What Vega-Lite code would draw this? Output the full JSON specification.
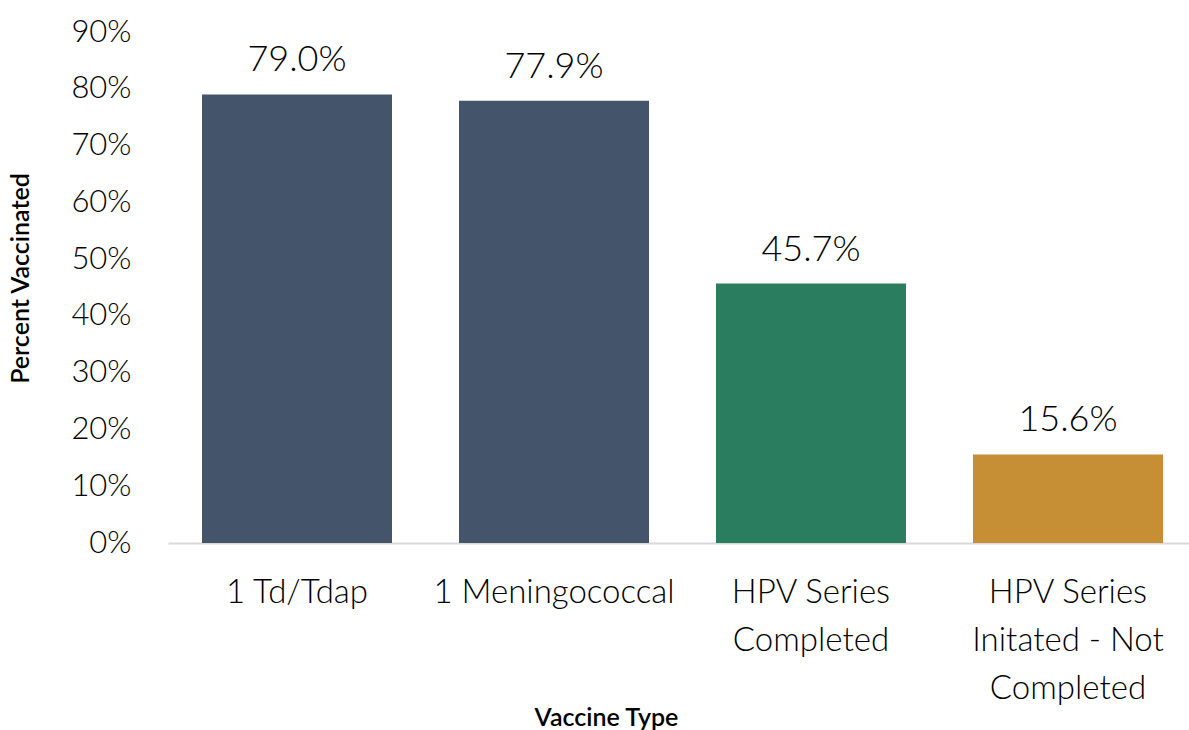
{
  "$schema": "https://vega.github.io/schema/vega-lite/v6.json",
  "autosize": {"type": "none"},
  "padding": {"left": 168, "top": 32, "right": 0, "bottom": 187},
  "width": 1021,
  "height": 511,
  "background": "white",
  "config": {
    "view": {"stroke": null},
    "font": "Lato",
    "axis": {"grid": false, "ticks": false}
  },
  "data": {
    "values": [
      {"vaccine": "1 Td/Tdap", "pct": 0.790, "group": "A"},
      {"vaccine": "1 Meningococcal", "pct": 0.779, "group": "A"},
      {"vaccine": "HPV Series|Completed", "pct": 0.457, "group": "B"},
      {"vaccine": "HPV Series|Initated - Not|Completed", "pct": 0.156, "group": "C"}
    ]
  },
  "encoding": {
    "x": {
      "field": "vaccine",
      "type": "nominal",
      "sort": null,
      "scale": {"range": [0, 1029], "paddingInner": 0.2607, "paddingOuter": 0.1323},
      "axis": {
        "title": "Vaccine Type",
        "labelAngle": 0,
        "labelExpr": "split(datum.label, '|')",
        "labelFont": "Lato",
        "labelFontWeight": 300,
        "labelFontSize": 33,
        "labelLimit": 0,
        "labelColor": "#000000",
        "labelLineHeight": 48,
        "labelPadding": 33,
        "labelBaseline": "top",
        "domain": true,
        "domainColor": "#d9d9d9",
        "domainWidth": 2,
        "titleFont": "Lato",
        "titleFontWeight": 600,
        "titleFontSize": 25,
        "titleColor": "#000000",
        "titleX": 438,
        "titleY": 174,
        "titleAlign": "center",
        "titleBaseline": "middle"
      }
    },
    "y": {
      "field": "pct",
      "type": "quantitative",
      "scale": {"domain": [0, 0.9], "nice": false},
      "axis": {
        "title": "Percent Vaccinated",
        "format": ".0%",
        "values": [0, 0.1, 0.2, 0.3, 0.4, 0.5, 0.6, 0.7, 0.8, 0.9],
        "domain": false,
        "labelFont": "Lato",
        "labelFontWeight": 300,
        "labelFontSize": 31,
        "labelColor": "#000000",
        "labelPadding": 37,
        "titleFont": "Lato",
        "titleFontWeight": 600,
        "titleFontSize": 25,
        "titleColor": "#000000",
        "titleAngle": -90,
        "titleX": -148,
        "titleY": 246,
        "titleAlign": "center",
        "titleBaseline": "middle"
      }
    }
  },
  "layer": [
    {
      "mark": {"type": "bar"},
      "encoding": {
        "color": {
          "field": "group",
          "type": "nominal",
          "scale": {"domain": ["A", "B", "C"], "range": ["#44546A", "#2A7D5E", "#C78F35"]},
          "legend": null
        }
      }
    },
    {
      "mark": {"type": "text", "baseline": "alphabetic", "dy": -23, "font": "Lato", "fontWeight": 300, "fontSize": 36, "color": "#000000"},
      "encoding": {
        "text": {"field": "pct", "type": "quantitative", "format": ".1%"}
      }
    }
  ]
}
